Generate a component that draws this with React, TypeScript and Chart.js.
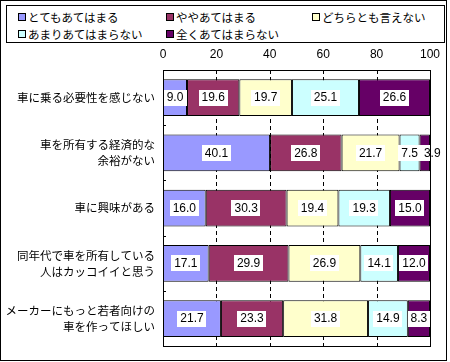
import React, { useEffect, useRef } from "react";
import { Chart, registerables } from "chart.js";

Chart.register(...registerables);

const categories: (string | string[])[] = [
  "車に乗る必要性を感じない",
  ["車を所有する経済的な", "余裕がない"],
  "車に興味がある",
  ["同年代で車を所有している", "人はカッコイイと思う"],
  ["メーカーにもっと若者向けの", "車を作ってほしい"],
];

const seriesNames = [
  "とてもあてはまる",
  "ややあてはまる",
  "どちらとも言えない",
  "あまりあてはまらない",
  "全くあてはまらない",
];

const seriesColors = ["#9999FF", "#993366", "#FFFFCC", "#CCFFFF", "#660066"];

const totemo = [9.0, 40.1, 16.0, 17.1, 21.7];
const yaya = [19.6, 26.8, 30.3, 29.9, 23.3];
const dochira = [19.7, 21.7, 19.4, 26.9, 31.8];
const amari = [25.1, 7.5, 19.3, 14.1, 14.9];
const mattaku = [26.6, 3.9, 15.0, 12.0, 8.3];

const seriesValues = [totemo, yaya, dochira, amari, mattaku];

const xTickMin = 0;
const xTickMax = 100;
const xTickStep = 20;

const CJK = '"Noto Sans CJK JP", "Noto Sans", sans-serif';
const NUM = '"Liberation Sans", Arial, sans-serif';

const gridPlugin = {
  id: "dashedGrid",
  beforeDatasetsDraw(chart: any) {
    const ctx = chart.ctx;
    const area = chart.chartArea;
    const xScale = chart.scales.x;
    ctx.save();
    ctx.strokeStyle = "#000";
    ctx.lineWidth = 1;
    ctx.setLineDash([4, 3]);
    ctx.beginPath();
    xScale.ticks.forEach((t: any) => {
      if (t.value === xTickMin || t.value === xTickMax) return;
      const px = Math.round(xScale.getPixelForValue(t.value)) + 0.5;
      ctx.moveTo(px, area.top);
      ctx.lineTo(px, area.bottom);
    });
    ctx.stroke();
    ctx.restore();
  },
};

const labelPlugin = {
  id: "customLabels",
  afterDatasetsDraw(chart: any) {
    const ctx = chart.ctx;
    const area = chart.chartArea;
    ctx.save();
    ctx.font = `12px ${NUM}`;
    ctx.textAlign = "center";
    ctx.textBaseline = "middle";
    const nCat = categories.length;
    for (let j = 0; j < nCat; j++) {
      let lastRight = -Infinity;
      chart.data.datasets.forEach((ds: any, i: number) => {
        const meta = chart.getDatasetMeta(i);
        const el: any = meta.data[j];
        if (!el) return;
        const v = ds.data[j];
        const text = Number(v).toFixed(1);
        const cx = (el.x + el.base) / 2;
        const w = ctx.measureText(text).width + 6;
        const h = 16;
        let left = cx - w / 2;
        if (left < lastRight) left = lastRight;
        const top = el.y - h / 2;
        ctx.fillStyle = "#ffffff";
        ctx.fillRect(Math.round(left), Math.round(top), Math.round(w), h);
        ctx.fillStyle = "#000000";
        ctx.fillText(text, left + w / 2, el.y + 0.5);
        lastRight = left + w;
      });
    }
    // plot border
    ctx.strokeStyle = "#000";
    ctx.lineWidth = 1;
    ctx.strokeRect(
      Math.round(area.left) + 0.5,
      Math.round(area.top) + 0.5,
      Math.round(area.right - area.left),
      Math.round(area.bottom - area.top)
    );
    // small ticks on category axis at boundaries
    const yScale = chart.scales.y;
    ctx.beginPath();
    for (let j = 0; j < nCat - 1; j++) {
      const yy = Math.round((yScale.getPixelForValue(j) + yScale.getPixelForValue(j + 1)) / 2) + 0.5;
      ctx.moveTo(area.left, yy);
      ctx.lineTo(area.left + 3, yy);
    }
    ctx.stroke();
    ctx.restore();
  },
};

export default function App() {
  const canvasRef = useRef<HTMLCanvasElement | null>(null);

  useEffect(() => {
    if (!canvasRef.current) return;
    const chart = new Chart(canvasRef.current, {
      type: "bar",
      data: {
        labels: categories as any,
        datasets: seriesValues.map((vals, i) => ({
          label: seriesNames[i],
          data: vals,
          backgroundColor: seriesColors[i],
          borderColor: "#000000",
          borderWidth: 1,
          borderSkipped: false,
          categoryPercentage: 1,
          barPercentage: 0.667,
        })),
      },
      options: {
        indexAxis: "y",
        animation: false,
        responsive: false,
        maintainAspectRatio: false,
        layout: { padding: { top: 0, left: 0, right: 18, bottom: 7 } },
        plugins: {
          legend: { display: false },
          tooltip: { enabled: false },
        },
        scales: {
          x: {
            type: "linear",
            position: "top",
            stacked: true,
            min: xTickMin,
            max: xTickMax,
            ticks: {
              stepSize: xTickStep,
              color: "#000",
              padding: 8,
              font: { family: NUM, size: 12 },
            },
            grid: { display: false, drawTicks: false },
            border: { display: false },
            afterFit: (s: any) => {
              s.height = 70;
            },
          },
          y: {
            stacked: true,
            ticks: {
              color: "#000",
              padding: 8,
              font: { family: CJK, size: 11.5, lineHeight: 1.35 },
            },
            grid: { display: false, drawTicks: false },
            border: { display: false },
            afterFit: (s: any) => {
              s.width = 163;
            },
          },
        },
      } as any,
      plugins: [gridPlugin, labelPlugin],
    });
    return () => chart.destroy();
  }, []);

  const colX = [18, 166, 312];
  const rowY = [13, 30];

  return (
    <div
      style={{
        position: "absolute",
        left: 0,
        top: 0,
        width: 448,
        height: 362,
        background: "#fff",
        fontFamily: CJK,
      }}
    >
      <canvas
        ref={canvasRef}
        width={448}
        height={362}
        style={{ position: "absolute", left: 0, top: 0, width: 448, height: 362 }}
      />
      <div
        style={{
          position: "absolute",
          left: 0,
          top: 0,
          width: 447,
          height: 361,
          border: "1px solid #000",
          boxSizing: "border-box",
          pointerEvents: "none",
        }}
      />
      <div
        style={{
          position: "absolute",
          left: 6,
          top: 5,
          width: 439,
          height: 38,
          border: "1px solid #000",
          boxSizing: "border-box",
          background: "#fff",
        }}
      />
      {seriesNames.map((name, i) => {
        const col = i % 3;
        const row = Math.floor(i / 3);
        return (
          <div
            key={name}
            style={{
              position: "absolute",
              left: colX[col],
              top: rowY[row] - 4,
              height: 16,
              display: "flex",
              alignItems: "center",
              whiteSpace: "nowrap",
              fontSize: 11.5,
              color: "#000",
              lineHeight: "16px",
            }}
          >
            <span
              style={{
                display: "inline-block",
                width: 8,
                height: 8,
                boxSizing: "border-box",
                border: "1px solid #000",
                background: seriesColors[i],
                marginRight: 2,
              }}
            />
            <span>{name}</span>
          </div>
        );
      })}
    </div>
  );
}
